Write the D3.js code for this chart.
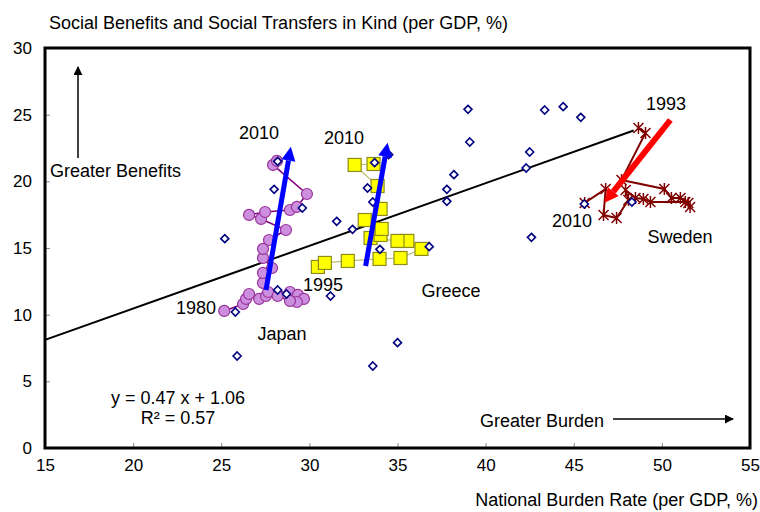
<!DOCTYPE html>
<html>
<head>
<meta charset="utf-8">
<script src="https://cdn.jsdelivr.net/npm/d3@7"></script>
<style>
  body { margin: 0; background: #fff; }
  svg text { font-family: "Liberation Sans", Arial, sans-serif; fill: #000; }
</style>
</head>
<body>
<div id="chart"></div>
<script>
// OECD countries, latest year (national burden rate, social benefits)
const oecdX = [25.2, 25.8, 25.9, 28.0, 28.2, 28.2, 28.7, 29.6, 31.2, 31.55, 32.45, 33.3, 33.6, 33.7, 33.6, 34.0,
               34.5, 35.0, 36.8, 37.8, 37.8, 38.2, 39.0, 39.1, 42.3, 42.5, 42.6, 43.35, 44.4, 45.4, 45.6, 48.3];
const oecdY = [15.7, 10.2, 6.9, 19.4, 21.5, 11.85, 11.55, 18.0, 11.4, 17.0, 16.4, 19.5, 18.45, 21.4, 6.15, 14.9,
               22.0, 7.9, 15.1, 19.4, 18.5, 20.5, 25.4, 22.95, 21.0, 22.2, 15.8, 25.35, 25.6, 24.8, 18.3, 18.45];

// Japan 1980-2010
const japanX = [25.17, 26.24, 26.41, 26.58, 27.15, 27.54, 27.66, 28.9, 29.35, 29.69, 29.29, 28.9, 28.2,
                27.37, 27.37, 27.88, 27.37, 27.37, 27.71, 28.67, 27.26, 26.58, 27.49, 28.9, 29.29, 29.86,
                27.94, 28.16];
const japanY = [10.28, 10.8, 11.18, 11.55, 11.18, 11.4, 11.7, 11.7, 11.48, 11.18, 10.95, 11.03, 11.4,
                12.38, 13.13, 13.5, 14.25, 14.93, 15.6, 16.35, 17.18, 17.48, 17.7, 17.85, 18.08, 19.05,
                21.23, 21.53];

// Greece 1995-2010
const greeceX = [30.48, 30.88, 32.18, 33.98, 35.17, 36.36, 35.56, 35.0, 33.47, 34.04, 34.1, 33.14, 34.04, 33.87, 32.57, 33.64];
const greeceY = [13.58, 13.88, 14.03, 14.18, 14.25, 14.93, 15.53, 15.53, 15.75, 15.98, 16.43, 17.1, 17.93, 19.65, 21.23, 21.3];

// Sweden 1993-2010
const swedenX = [48.67, 49.07, 47.71, 50.14, 50.54, 51.05, 51.5, 51.6, 51.33, 49.35, 48.95, 48.5, 47.94, 48.1, 47.43, 46.69, 46.81, 45.62];
const swedenY = [24.0, 23.63, 20.1, 19.43, 18.75, 18.75, 18.38, 18.08, 18.45, 18.45, 18.68, 18.75, 19.35, 18.6, 17.25, 17.48, 19.43, 18.38];

// trend arrows (start, end)
const arrows = [
  { from: [27.54, 11.85], to: [28.95, 22.6], color: "#0000ff", w: 5 },
  { from: [33.19, 13.65], to: [34.44, 22.9], color: "#0000ff", w: 5 },
  { from: [50.48, 24.6], to: [46.75, 18.4], color: "#ff0000", w: 6 }
];

const xTicks = [15, 20, 25, 30, 35, 40, 45, 50, 55];
const yTicks = [0, 5, 10, 15, 20, 25, 30];
const slope = 0.47, intercept = 1.06;
const trendRange = [15, 48.4];

const width = 760, height = 512;
const margin = { top: 48, right: 10, bottom: 64, left: 45 };
const fontSize = 18;

const svg = d3.select("#chart").append("svg")
    .attr("width", width)
    .attr("height", height);

const x = d3.scaleLinear().domain([15, 55]).range([margin.left, width - margin.right]);
const y = d3.scaleLinear().domain([0, 30]).range([height - margin.bottom, margin.top]);

// ticks (inward)
svg.append("g")
    .attr("transform", "translate(0," + y(0) + ")")
    .call(d3.axisBottom(x).tickValues(xTicks).tickSize(-5).tickPadding(11).tickFormat(d3.format("d")))
    .call(g => g.select(".domain").remove())
    .call(g => g.selectAll("line").attr("stroke", "#888"))
    .call(g => g.selectAll("text").style("font-size", "17px").style("font-family", "Liberation Sans, Arial, sans-serif"));

svg.append("g")
    .attr("transform", "translate(" + x(15) + ",0)")
    .call(d3.axisLeft(y).tickValues(yTicks).tickSize(-5).tickPadding(13).tickFormat(d3.format("d")))
    .call(g => g.select(".domain").remove())
    .call(g => g.selectAll("line").attr("stroke", "#888"))
    .call(g => g.selectAll("text").style("font-size", "17px").style("font-family", "Liberation Sans, Arial, sans-serif"));

// trend line
svg.append("line")
    .attr("x1", x(trendRange[0])).attr("y1", y(slope * trendRange[0] + intercept))
    .attr("x2", x(trendRange[1])).attr("y2", y(slope * trendRange[1] + intercept))
    .attr("stroke", "#000").attr("stroke-width", 2);

const line = d3.line().x(d => x(d[0])).y(d => y(d[1]));

// Japan
const japan = d3.zip(japanX, japanY);
svg.append("path").datum(japan).attr("d", line)
    .attr("fill", "none").attr("stroke", "#800080").attr("stroke-width", 1.6);
svg.selectAll(".jp").data(japan).enter().append("circle")
    .attr("cx", d => x(d[0])).attr("cy", d => y(d[1])).attr("r", 5.5)
    .attr("fill", "#cc8fe0").attr("stroke", "#993399").attr("stroke-width", 1.2);

// Greece
const greece = d3.zip(greeceX, greeceY);
svg.append("path").datum(greece).attr("d", line)
    .attr("fill", "none").attr("stroke", "#bdbd6b").attr("stroke-width", 1.2);
svg.selectAll(".gr").data(greece).enter().append("rect")
    .attr("x", d => x(d[0]) - 6.5).attr("y", d => y(d[1]) - 6.5)
    .attr("width", 13).attr("height", 13)
    .attr("fill", "#ffff00").attr("stroke", "#8c8c1a").attr("stroke-width", 1.2);

// Sweden
const sweden = d3.zip(swedenX, swedenY);
svg.append("path").datum(sweden).attr("d", line)
    .attr("fill", "none").attr("stroke", "#800000").attr("stroke-width", 2);
const star = svg.selectAll(".se").data(sweden).enter().append("g")
    .attr("transform", d => "translate(" + x(d[0]) + "," + y(d[1]) + ")");
star.append("path")
    .attr("d", "M-5,-5L5,5M-5,5L5,-5M0,-6L0,6")
    .attr("stroke", "#800000").attr("stroke-width", 1.5);

// OECD diamonds
const oecd = d3.zip(oecdX, oecdY);
svg.selectAll(".oe").data(oecd).enter().append("path")
    .attr("transform", d => "translate(" + x(d[0]) + "," + y(d[1]) + ")")
    .attr("d", "M0,-4L4,0L0,4L-4,0Z")
    .attr("fill", "#fff").attr("stroke", "#000080").attr("stroke-width", 1.6);

// thick arrows
function drawArrow(a) {
    const x1 = x(a.from[0]), y1 = y(a.from[1]);
    const x2 = x(a.to[0]), y2 = y(a.to[1]);
    const ang = Math.atan2(y2 - y1, x2 - x1);
    const hl = 14, hw = 7;
    const bx = x2 - hl * Math.cos(ang), by = y2 - hl * Math.sin(ang);
    svg.append("line")
        .attr("x1", x1).attr("y1", y1).attr("x2", bx).attr("y2", by)
        .attr("stroke", a.color).attr("stroke-width", a.w);
    const px = -Math.sin(ang) * hw, py = Math.cos(ang) * hw;
    svg.append("path")
        .attr("d", "M" + x2 + "," + y2 + "L" + (bx + px) + "," + (by + py) + "L" + (bx - px) + "," + (by - py) + "Z")
        .attr("fill", a.color);
}
arrows.forEach(drawArrow);

// plot frame
svg.append("rect")
    .attr("x", x(15)).attr("y", y(30))
    .attr("width", x(55) - x(15)).attr("height", y(0) - y(30))
    .attr("fill", "none").attr("stroke", "#000").attr("stroke-width", 3);

// annotation arrows
svg.append("defs").append("marker")
    .attr("id", "tri").attr("viewBox", "0 0 10 10").attr("refX", 9).attr("refY", 5)
    .attr("markerWidth", 6).attr("markerHeight", 6).attr("orient", "auto")
    .append("path").attr("d", "M0,0L10,5L0,10Z").attr("fill", "#000");

svg.append("line")
    .attr("x1", 78).attr("y1", 158).attr("x2", 78).attr("y2", 67)
    .attr("stroke", "#000").attr("stroke-width", 1.5).attr("marker-end", "url(#tri)");
svg.append("line")
    .attr("x1", 613).attr("y1", 419).attr("x2", 733).attr("y2", 419)
    .attr("stroke", "#000").attr("stroke-width", 1.5).attr("marker-end", "url(#tri)");

// texts
function label(tx, ty, t, anchor) {
    svg.append("text").attr("x", tx).attr("y", ty)
        .attr("text-anchor", anchor || "start")
        .style("font-size", fontSize + "px")
        .text(t);
}
label(49, 29, "Social Benefits and Social Transfers in Kind (per GDP, %)");
label(758, 506, "National Burden Rate (per GDP, %)", "end");
label(50, 177, "Greater Benefits");
label(480, 427, "Greater Burden");
label(178, 404, "y = 0.47 x + 1.06", "middle");
label(178, 424, "R\u00b2 = 0.57", "middle");
label(259, 139, "2010", "middle");
label(344, 144, "2010", "middle");
label(666, 110, "1993", "middle");
label(572, 227, "2010", "middle");
label(680, 243, "Sweden", "middle");
label(451, 297, "Greece", "middle");
label(323, 291, "1995", "middle");
label(196, 314, "1980", "middle");
label(282, 340, "Japan", "middle");
</script>
</body>
</html>
